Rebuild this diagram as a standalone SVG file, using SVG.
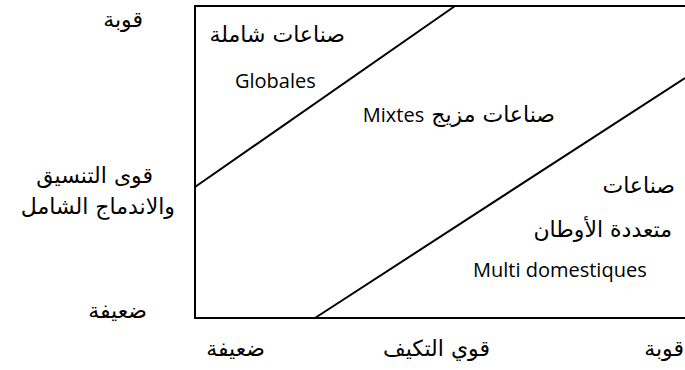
<svg xmlns="http://www.w3.org/2000/svg" width="685" height="370" viewBox="0 0 685 370">
<style>
.t{font-family:"DejaVu Sans","Noto Sans","Open Sans",sans-serif;font-size:22px;fill:#000}
.l{font-family:"Open Sans","Noto Sans","DejaVu Sans",sans-serif;font-size:20px;fill:#000}
.ln{stroke:#000;stroke-width:2;fill:none}
</style>
<rect width="685" height="370" fill="#fff"/>
<g id="frame">
<polyline class="ln" points="685,6 195,6 195,318 685,318"/>
</g>
<g id="connectors">
<line class="ln" x1="195" y1="187" x2="455" y2="6"/>
<line class="ln" x1="315" y1="318" x2="685" y2="78"/>
</g>
<g id="axis-y">
<text class="t" x="143" y="27" text-anchor="end">قوبة</text>
<text class="t" x="153" y="183" text-anchor="end">قوى التنسيق</text>
<text class="t" x="175" y="214" text-anchor="end">والاندماج الشامل</text>
<text class="t" x="147" y="318" text-anchor="end">ضعيفة</text>
</g>
<g id="axis-x">
<text class="t" x="265" y="356" text-anchor="end">ضعيفة</text>
<text class="t" x="490" y="356" text-anchor="end">قوي التكيف</text>
<text class="t" x="684" y="356" text-anchor="end">قوبة</text>
</g>
<g id="globales">
<text class="t" x="345" y="42" text-anchor="end">صناعات شاملة</text>
<text class="l" x="235" y="88">Globales</text>
</g>
<g id="mixtes">
<text class="t" x="555" y="122" text-anchor="start" direction="rtl" style="direction:rtl;unicode-bidi:embed">صناعات مزيج <tspan class="l">Mixtes</tspan></text>
</g>
<g id="multi">
<text class="t" x="675" y="193" text-anchor="end">صناعات</text>
<text class="t" x="672" y="237" text-anchor="end">متعددة الأوطان</text>
<text class="l" x="473" y="277">Multi domestiques</text>
</g>
</svg>
